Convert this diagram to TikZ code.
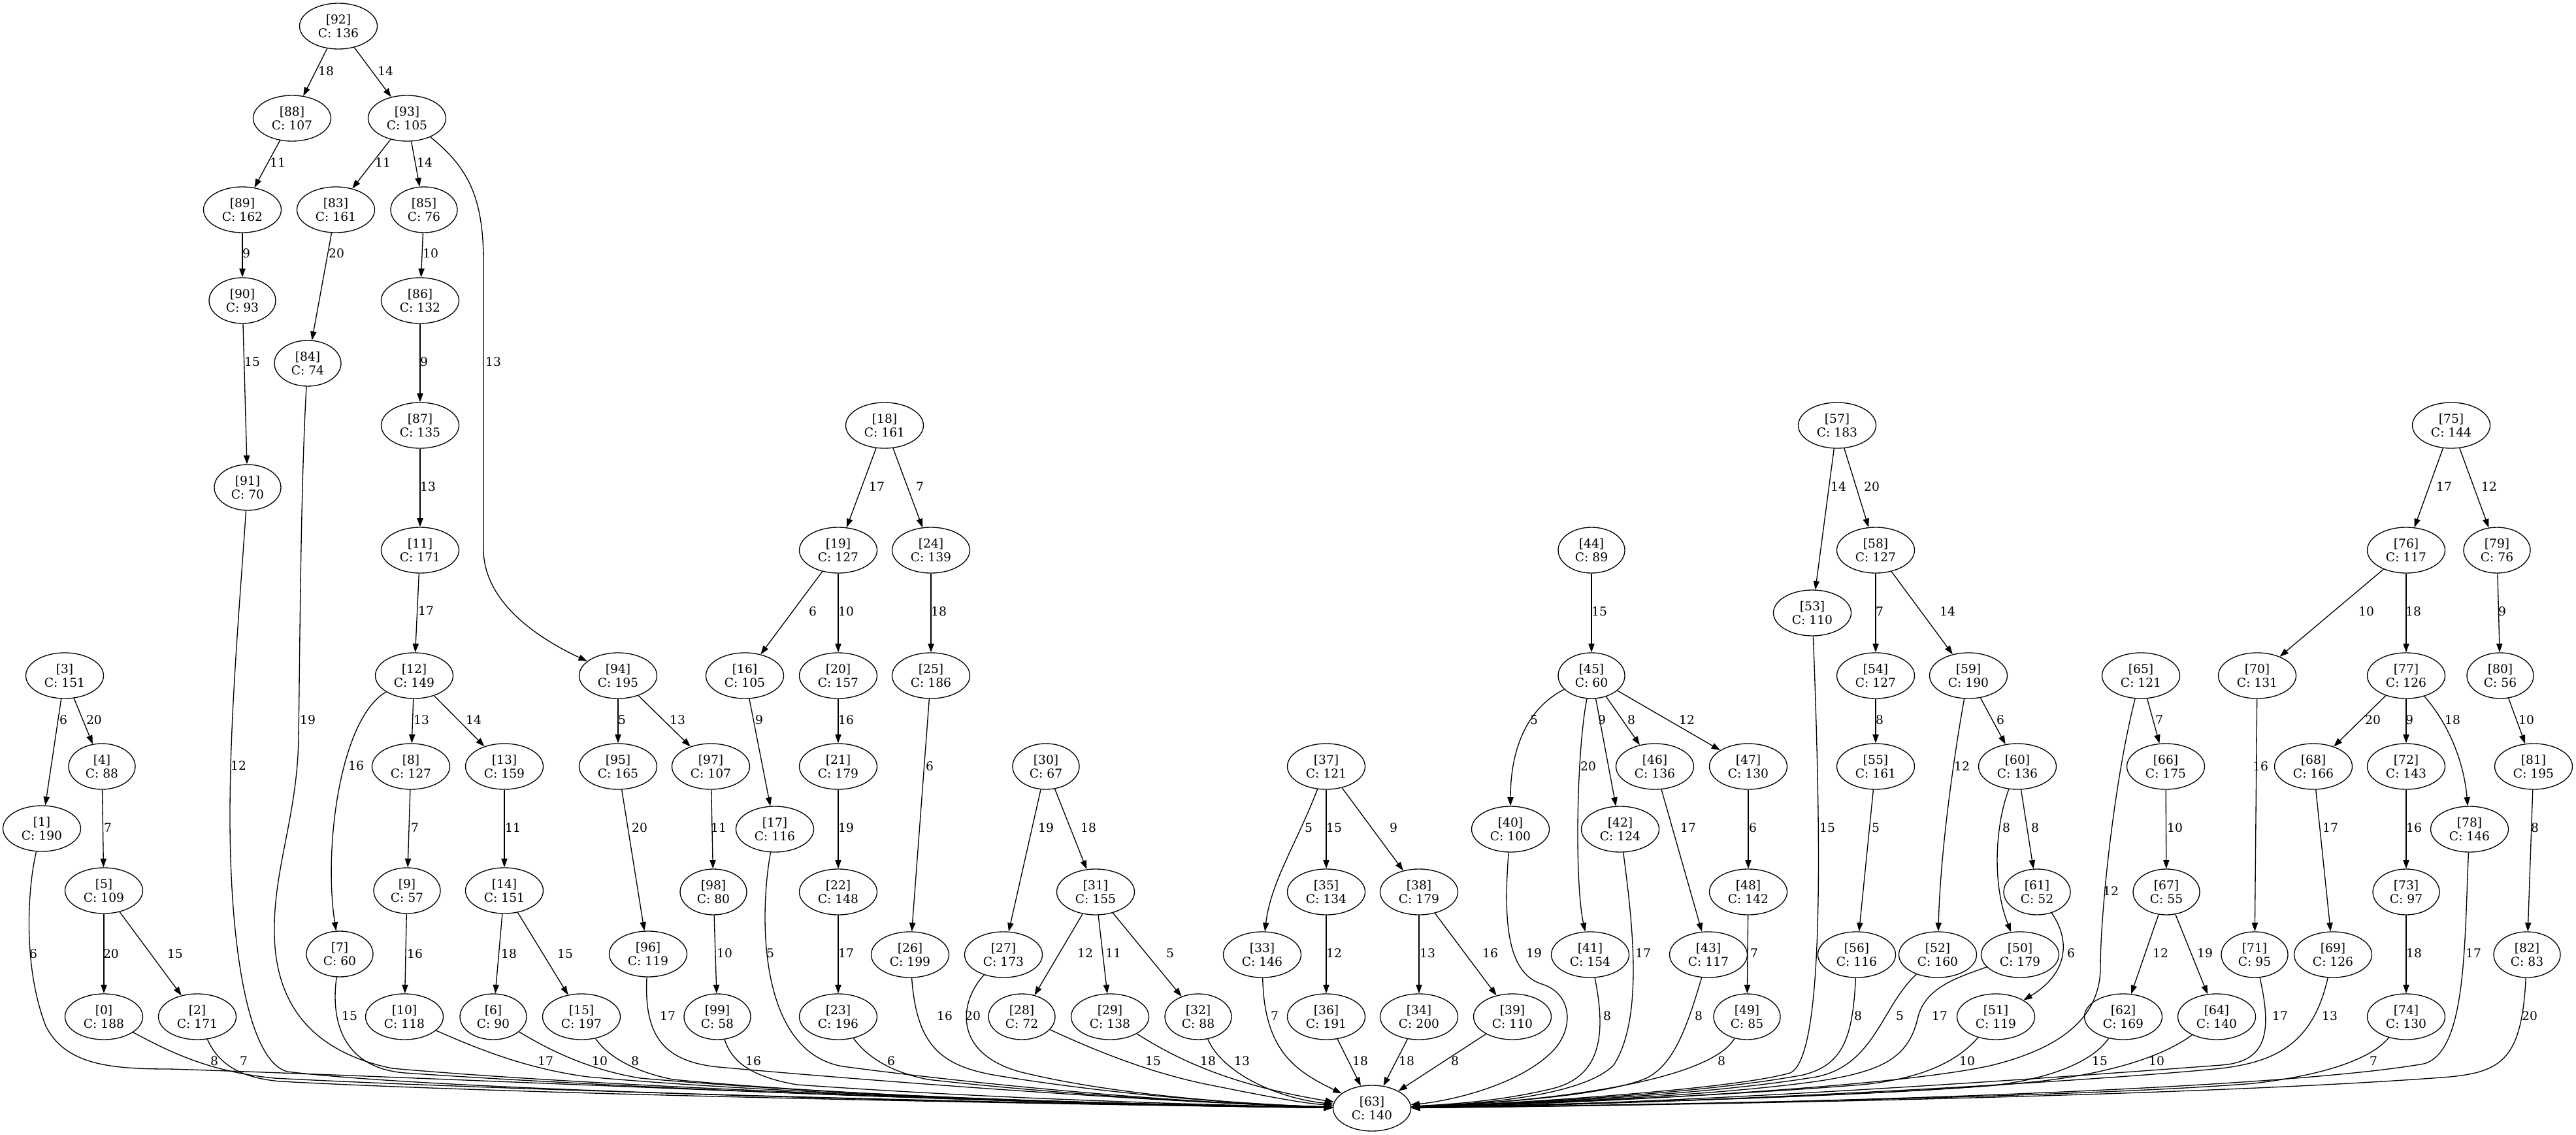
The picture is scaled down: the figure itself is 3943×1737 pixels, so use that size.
\documentclass[tikz,border=0pt]{standalone}
\usepackage{fontspec}
\setmainfont{DejaVu Serif}
\usetikzlibrary{arrows.meta,shapes.geometric}
\tikzset{
  nd/.style={ellipse, draw, line width=1.33pt, minimum width=119pt, minimum height=70pt, inner sep=0pt, align=center, font=\fontsize{18.67}{21.7}\selectfont},
  ns/.style={nd, minimum width=102pt},
  ed/.style={line width=1.33pt, -{Triangle[length=13.3pt,width=9.3pt]}},
  lb/.style={inner sep=0pt, font=\fontsize{18.67}{21.7}\selectfont},
}
\newcommand{\nodeA}[4]{\node[nd] (n#1) at (#2,#3) {[#1]\\C: #4};}
\newcommand{\nodeB}[4]{\node[ns] (n#1) at (#2,#3) {[#1]\\C: #4};}
\newcommand{\edgeS}[5]{\draw[ed] (n#1) -- (n#2); \node[lb] (L#1x#2) at (#4,#5) {#3};}
\newcommand{\lab}[5]{\node[lb] (L#1x#2) at (#4,#5) {#3};}
\begin{document}
\begin{tikzpicture}[x=1pt,y=-1pt]
\fill[white] (0,0) rectangle (3943,1737);
\useasboundingbox (0,0) rectangle (3943,1737);
% nodes
\nodeA{0}{159}{1556}{188}
\nodeA{1}{64}{1268}{190}
\nodeA{2}{302}{1556}{171}
\nodeA{3}{99}{1034}{151}
\nodeB{4}{156}{1173}{88}
\nodeA{5}{159}{1363}{109}
\nodeB{6}{755}{1556}{90}
\nodeB{7}{520}{1460}{60}
\nodeA{8}{629}{1173}{127}
\nodeB{9}{623}{1363}{57}
\nodeA{10}{619}{1556}{118}
\nodeA{11}{643}{842}{171}
\nodeA{12}{634}{1034}{149}
\nodeA{13}{772}{1173}{159}
\nodeA{14}{772}{1363}{151}
\nodeA{15}{890}{1556}{197}
\nodeA{16}{1140}{1034}{105}
\nodeA{17}{1186}{1269}{116}
\nodeA{18}{1354}{651}{161}
\nodeA{19}{1283}{842}{127}
\nodeA{20}{1283}{1034}{157}
\nodeA{21}{1283}{1173}{179}
\nodeA{22}{1283}{1365}{148}
\nodeA{23}{1283}{1556}{196}
\nodeA{24}{1425}{842}{139}
\nodeA{25}{1425}{1034}{186}
\nodeA{26}{1393}{1461}{199}
\nodeA{27}{1536}{1461}{173}
\nodeB{28}{1564}{1556}{72}
\nodeA{29}{1699}{1556}{138}
\nodeB{30}{1601}{1173}{67}
\nodeA{31}{1677}{1365}{155}
\nodeB{32}{1834}{1556}{88}
\nodeA{33}{1932}{1461}{146}
\nodeA{34}{2172}{1556}{200}
\nodeA{35}{2030}{1365}{134}
\nodeA{36}{2030}{1556}{191}
\nodeA{37}{2030}{1173}{121}
\nodeA{38}{2172}{1365}{179}
\nodeA{39}{2315}{1556}{110}
\nodeA{40}{2312}{1269}{100}
\nodeA{41}{2434}{1461}{154}
\nodeA{42}{2480}{1269}{124}
\nodeA{43}{2615}{1461}{117}
\nodeB{44}{2436}{842}{89}
\nodeB{45}{2436}{1034}{60}
\nodeA{46}{2533}{1173}{136}
\nodeA{47}{2676}{1173}{130}
\nodeA{48}{2676}{1365}{142}
\nodeB{49}{2674}{1556}{85}
\nodeA{50}{3092}{1461}{179}
\nodeA{51}{3055}{1556}{119}
\nodeA{52}{2966}{1461}{160}
\nodeA{53}{2774}{938}{110}
\nodeA{54}{2871}{1034}{127}
\nodeA{55}{2871}{1173}{161}
\nodeA{56}{2842}{1461}{116}
\nodeA{57}{2812}{651}{183}
\nodeA{58}{2871}{842}{127}
\nodeA{59}{3013}{1034}{190}
\nodeA{60}{3088}{1173}{136}
\nodeB{61}{3118}{1365}{52}
\nodeA{62}{3250}{1556}{169}
\nodeA{63}{2100}{1696}{140}
\nodeA{64}{3393}{1556}{140}
\nodeA{65}{3277}{1034}{121}
\nodeA{66}{3315}{1173}{175}
\nodeB{67}{3316}{1365}{55}
\nodeA{68}{3541}{1173}{166}
\nodeA{69}{3571}{1461}{126}
\nodeA{70}{3455}{1034}{131}
\nodeB{71}{3451}{1461}{95}
\nodeA{72}{3683}{1173}{143}
\nodeB{73}{3683}{1365}{97}
\nodeA{74}{3683}{1556}{130}
\nodeA{75}{3752}{651}{144}
\nodeA{76}{3683}{842}{117}
\nodeA{77}{3683}{1034}{126}
\nodeA{78}{3780}{1269}{146}
\nodeB{79}{3822}{842}{76}
\nodeB{80}{3827}{1034}{56}
\nodeA{81}{3878}{1173}{195}
\nodeB{82}{3868}{1461}{83}
\nodeA{83}{514}{321}{161}
\nodeB{84}{471}{556}{74}
\nodeB{85}{649}{321}{76}
\nodeA{86}{643}{460}{132}
\nodeA{87}{643}{651}{135}
\nodeA{88}{447}{181}{107}
\nodeA{89}{371}{321}{162}
\nodeB{90}{371}{460}{93}
\nodeB{91}{379}{746}{70}
\nodeA{92}{518}{40}{136}
\nodeA{93}{623}{181}{105}
\nodeA{94}{946}{1034}{195}
\nodeA{95}{946}{1173}{165}
\nodeA{96}{992}{1460}{119}
\nodeA{97}{1088}{1173}{107}
\nodeB{98}{1092}{1365}{80}
\nodeB{99}{1098}{1556}{58}
% straight edges
\edgeS{92}{88}{18}{499}{109}
\edgeS{92}{93}{14}{590}{109}
\edgeS{88}{89}{11}{425}{249}
\edgeS{93}{83}{11}{586}{249}
\edgeS{93}{85}{14}{650}{249}
\edgeS{89}{90}{9}{377}{388}
\edgeS{83}{84}{20}{515}{388}
\edgeS{85}{86}{10}{659}{388}
\edgeS{90}{91}{15}{386}{554}
\edgeS{86}{87}{9}{649}{554}
\edgeS{87}{11}{13}{655}{745}
\edgeS{11}{12}{17}{652}{935}
\edgeS{3}{1}{6}{97}{1102}
\edgeS{3}{4}{20}{144}{1102}
\edgeS{12}{8}{13}{645}{1102}
\edgeS{12}{13}{14}{725}{1102}
\edgeS{94}{95}{5}{952}{1102}
\edgeS{4}{5}{7}{165}{1267}
\edgeS{8}{9}{7}{635}{1267}
\edgeS{13}{14}{11}{785}{1267}
\edgeS{95}{96}{20}{979}{1267}
\edgeS{5}{0}{20}{170}{1460}
\edgeS{5}{2}{15}{268}{1460}
\edgeS{9}{10}{16}{635}{1460}
\edgeS{14}{6}{18}{779}{1460}
\edgeS{14}{15}{15}{865}{1460}
\edgeS{18}{19}{17}{1342}{745}
\edgeS{18}{24}{7}{1408}{745}
\edgeS{19}{16}{6}{1244}{936}
\edgeS{19}{20}{10}{1295}{936}
\edgeS{24}{25}{18}{1437}{936}
\edgeS{94}{97}{13}{1037}{1102}
\edgeS{16}{17}{9}{1162}{1102}
\edgeS{20}{21}{16}{1295}{1102}
\edgeS{25}{26}{6}{1423}{1173}
\edgeS{97}{98}{11}{1100}{1267}
\edgeS{21}{22}{19}{1295}{1267}
\edgeS{30}{27}{19}{1601}{1267}
\edgeS{30}{31}{18}{1666}{1267}
\edgeS{98}{99}{10}{1109}{1459}
\edgeS{22}{23}{17}{1295}{1459}
\edgeS{31}{28}{12}{1661}{1459}
\edgeS{31}{29}{11}{1704}{1459}
\edgeS{31}{32}{5}{1791}{1459}
\edgeS{57}{53}{14}{2814}{745}
\edgeS{57}{58}{20}{2865}{745}
\edgeS{44}{45}{15}{2448}{936}
\edgeS{58}{54}{7}{2877}{936}
\edgeS{58}{59}{14}{2981}{936}
\edgeS{45}{42}{9}{2452}{1102}
\edgeS{45}{46}{8}{2497}{1102}
\edgeS{45}{47}{12}{2582}{1102}
\edgeS{54}{55}{8}{2877}{1102}
\edgeS{37}{35}{15}{2042}{1267}
\edgeS{37}{38}{9}{2133}{1267}
\edgeS{46}{43}{17}{2584}{1267}
\edgeS{47}{48}{6}{2683}{1267}
\edgeS{55}{56}{5}{2871}{1267}
\edgeS{35}{36}{12}{2042}{1459}
\edgeS{38}{34}{13}{2185}{1459}
\edgeS{38}{39}{16}{2281}{1459}
\edgeS{48}{49}{7}{2685}{1459}
\edgeS{36}{63}{18}{2082}{1624}
\edgeS{34}{63}{18}{2153}{1624}
\edgeS{39}{63}{8}{2227}{1624}
\edgeS{75}{76}{17}{3741}{745}
\edgeS{75}{79}{12}{3810}{745}
\edgeS{76}{70}{10}{3622}{936}
\edgeS{76}{77}{18}{3694}{936}
\edgeS{79}{80}{9}{3830}{936}
\edgeS{59}{60}{6}{3062}{1102}
\edgeS{65}{66}{7}{3305}{1102}
\edgeS{77}{68}{20}{3632}{1102}
\edgeS{77}{72}{9}{3688}{1102}
\edgeS{80}{81}{10}{3867}{1102}
\edgeS{70}{71}{16}{3460}{1173}
\edgeS{60}{61}{8}{3115}{1267}
\edgeS{66}{67}{10}{3329}{1267}
\edgeS{68}{69}{17}{3567}{1267}
\edgeS{72}{73}{16}{3695}{1267}
\edgeS{81}{82}{8}{3880}{1267}
\edgeS{67}{62}{12}{3307}{1459}
\edgeS{67}{64}{19}{3375}{1459}
\edgeS{73}{74}{18}{3695}{1459}
% curved edges (not to 63)
\draw[ed] (n93) .. controls (715,255) and (740,300) .. (740,400) -- (740,840) .. controls (740,920) and (820,975) .. (n94);
\lab{93}{94}{13}{755}{554}
\draw[ed] (n12) .. controls (520,1100) and (495,1300) .. (n7);
\lab{12}{7}{16}{545}{1172}
\draw[ed] (n37) .. controls (1985,1290) and (1945,1350) .. (n33);
\lab{37}{33}{5}{2003}{1267}
\draw[ed] (n45) .. controls (2335,1085) and (2312,1150) .. (n40);
\lab{45}{40}{5}{2348}{1102}
\draw[ed] (n45) .. controls (2413,1150) and (2410,1350) .. (n41);
\lab{45}{41}{20}{2431}{1173}
\draw[ed] (n59) .. controls (2992,1150) and (2970,1300) .. (n52);
\lab{59}{52}{12}{3003}{1173}
\draw[ed] (n60) .. controls (3055,1260) and (3048,1350) .. (n50);
\lab{60}{50}{8}{3071}{1267}
\draw[ed] (n61) .. controls (3170,1440) and (3165,1490) .. (n51);
\lab{61}{51}{6}{3170}{1459}
\draw[ed] (n77) .. controls (3750,1110) and (3772,1170) .. (n78);
\lab{77}{78}{18}{3754}{1102}
% edges to 63, left side
\draw[ed] (n1) .. controls (42,1360) and (35,1480) .. (70,1570) .. controls (100,1630) and (170,1636) .. (260,1636) .. controls (700,1650) and (1500,1690) .. (n63);
\lab{1}{63}{6}{51}{1460}
\draw[ed] (n0) .. controls (260,1610) and (320,1640) .. (420,1650) .. controls (800,1670) and (1600,1690) .. (n63);
\lab{0}{63}{8}{328}{1624}
\draw[ed] (n2) .. controls (335,1630) and (370,1650) .. (430,1655) .. controls (800,1675) and (1600,1690) .. (n63);
\lab{2}{63}{7}{373}{1624}
\draw[ed] (n91) .. controls (365,950) and (352,1100) .. (352,1250) .. controls (352,1450) and (380,1625) .. (440,1640) .. controls (700,1672) and (1600,1690) .. (n63);
\lab{91}{63}{12}{365}{1172}
\draw[ed] (n84) .. controls (460,750) and (459,1000) .. (457,1130) .. controls (455,1250) and (418,1330) .. (420,1430) .. controls (422,1540) and (480,1610) .. (600,1635) .. controls (1000,1670) and (1700,1690) .. (n63);
\lab{84}{63}{19}{471}{1102}
\draw[ed] (n7) .. controls (505,1570) and (530,1635) .. (620,1642) .. controls (1000,1668) and (1600,1690) .. (n63);
\lab{7}{63}{15}{535}{1555}
\draw[ed] (n10) .. controls (720,1600) and (800,1635) .. (900,1648) .. controls (1200,1675) and (1700,1690) .. (n63);
\lab{10}{63}{17}{835}{1624}
\draw[ed] (n6) .. controls (830,1600) and (890,1635) .. (980,1650) .. controls (1300,1678) and (1700,1690) .. (n63);
\lab{6}{63}{10}{918}{1624}
\draw[ed] (n15) .. controls (925,1610) and (960,1638) .. (1030,1652) .. controls (1300,1678) and (1700,1690) .. (n63);
\lab{15}{63}{8}{972}{1624}
\draw[ed] (n96) .. controls (985,1590) and (1020,1625) .. (1100,1633) .. controls (1400,1660) and (1800,1688) .. (n63);
\lab{96}{63}{17}{1022}{1555}
\draw[ed] (n99) .. controls (1120,1625) and (1150,1648) .. (1220,1660) .. controls (1500,1680) and (1800,1690) .. (n63);
\lab{99}{63}{16}{1153}{1624}
\draw[ed] (n17) .. controls (1162,1400) and (1160,1610) .. (1290,1632) .. controls (1500,1660) and (1800,1688) .. (n63);
\lab{17}{63}{5}{1179}{1459}
\draw[ed] (n23) .. controls (1325,1615) and (1360,1640) .. (1420,1652) .. controls (1650,1678) and (1900,1690) .. (n63);
\lab{23}{63}{6}{1364}{1624}
\draw[ed] (n26) .. controls (1403,1600) and (1440,1630) .. (1520,1645) .. controls (1700,1675) and (1900,1690) .. (n63);
\lab{26}{63}{16}{1446}{1555}
\draw[ed] (n27) .. controls (1470,1530) and (1455,1610) .. (1560,1640) .. controls (1700,1675) and (1900,1690) .. (n63);
\lab{27}{63}{20}{1489}{1555}
\draw[ed] (n28) .. controls (1660,1600) and (1750,1640) .. (1850,1660) .. controls (1930,1676) and (1990,1688) .. (n63);
\lab{28}{63}{15}{1765}{1624}
\draw[ed] (n29) .. controls (1800,1620) and (1880,1660) .. (n63);
\lab{29}{63}{18}{1849}{1624}
\draw[ed] (n32) .. controls (1870,1640) and (1950,1680) .. (n63);
\lab{32}{63}{13}{1901}{1624}
\draw[ed] (n33) .. controls (1935,1610) and (1985,1640) .. (n63);
\lab{33}{63}{7}{1951}{1555}
% edges to 63, right side
\draw[ed] (n40) .. controls (2300,1420) and (2310,1490) .. (2360,1506) .. controls (2405,1520) and (2410,1570) .. (2380,1605) .. controls (2330,1660) and (2220,1685) .. (n63);
\lab{40}{63}{19}{2348}{1459}
\draw[ed] (n41) .. controls (2458,1580) and (2452,1645) .. (2380,1665) .. controls (2300,1685) and (2220,1690) .. (n63);
\lab{41}{63}{8}{2460}{1555}
\draw[ed] (n42) .. controls (2500,1420) and (2515,1560) .. (2470,1630) .. controls (2420,1680) and (2250,1690) .. (n63);
\lab{42}{63}{17}{2515}{1459}
\draw[ed] (n43) .. controls (2580,1580) and (2560,1630) .. (2520,1650) .. controls (2450,1680) and (2250,1690) .. (n63);
\lab{43}{63}{8}{2600}{1555}
\draw[ed] (n49) .. controls (2620,1650) and (2400,1685) .. (n63);
\lab{49}{63}{8}{2635}{1624}
\draw[ed] (n53) .. controls (2788,1300) and (2792,1620) .. (2740,1642) .. controls (2650,1668) and (2300,1690) .. (n63);
\lab{53}{63}{15}{2797}{1267}
\draw[ed] (n56) .. controls (2836,1590) and (2820,1630) .. (2760,1645) .. controls (2600,1675) and (2300,1690) .. (n63);
\lab{56}{63}{8}{2844}{1555}
\draw[ed] (n52) .. controls (2880,1540) and (2870,1630) .. (2780,1648) .. controls (2600,1678) and (2300,1690) .. (n63);
\lab{52}{63}{5}{2908}{1555}
\draw[ed] (n50) .. controls (3000,1495) and (2945,1510) .. (2935,1560) .. controls (2920,1620) and (2880,1640) .. (2780,1655) .. controls (2600,1680) and (2300,1690) .. (n63);
\lab{50}{63}{17}{2969}{1555}
\draw[ed] (n51) .. controls (3000,1620) and (2950,1650) .. (2850,1660) .. controls (2600,1680) and (2300,1690) .. (n63);
\lab{51}{63}{10}{3011}{1624}
\draw[ed] (n65) .. controls (3235,1200) and (3215,1400) .. (3215,1480) .. controls (3215,1560) and (3150,1605) .. (3050,1630) .. controls (2900,1665) and (2400,1690) .. (n63);
\lab{65}{63}{12}{3231}{1364}
\draw[ed] (n62) .. controls (3200,1630) and (3120,1655) .. (3040,1662) .. controls (2800,1680) and (2400,1690) .. (n63);
\lab{62}{63}{15}{3214}{1624}
\draw[ed] (n64) .. controls (3320,1610) and (3250,1640) .. (3120,1655) .. controls (2900,1678) and (2400,1690) .. (n63);
\lab{64}{63}{10}{3301}{1624}
\draw[ed] (n71) .. controls (3478,1580) and (3470,1625) .. (3400,1630) .. controls (3200,1645) and (2600,1690) .. (n63);
\lab{71}{63}{17}{3490}{1555}
\draw[ed] (n69) .. controls (3540,1600) and (3480,1625) .. (3400,1635) .. controls (3200,1655) and (2600,1690) .. (n63);
\lab{69}{63}{13}{3566}{1555}
\draw[ed] (n74) .. controls (3630,1620) and (3560,1645) .. (3450,1658) .. controls (3200,1678) and (2600,1690) .. (n63);
\lab{74}{63}{7}{3633}{1624}
\draw[ed] (n78) .. controls (3772,1450) and (3775,1610) .. (3710,1628) .. controls (3500,1665) and (2800,1690) .. (n63);
\lab{78}{63}{17}{3786}{1459}
\draw[ed] (n82) .. controls (3860,1620) and (3830,1640) .. (3750,1648) .. controls (3400,1675) and (2700,1690) .. (n63);
\lab{82}{63}{20}{3872}{1555}
\end{tikzpicture}
\end{document}
